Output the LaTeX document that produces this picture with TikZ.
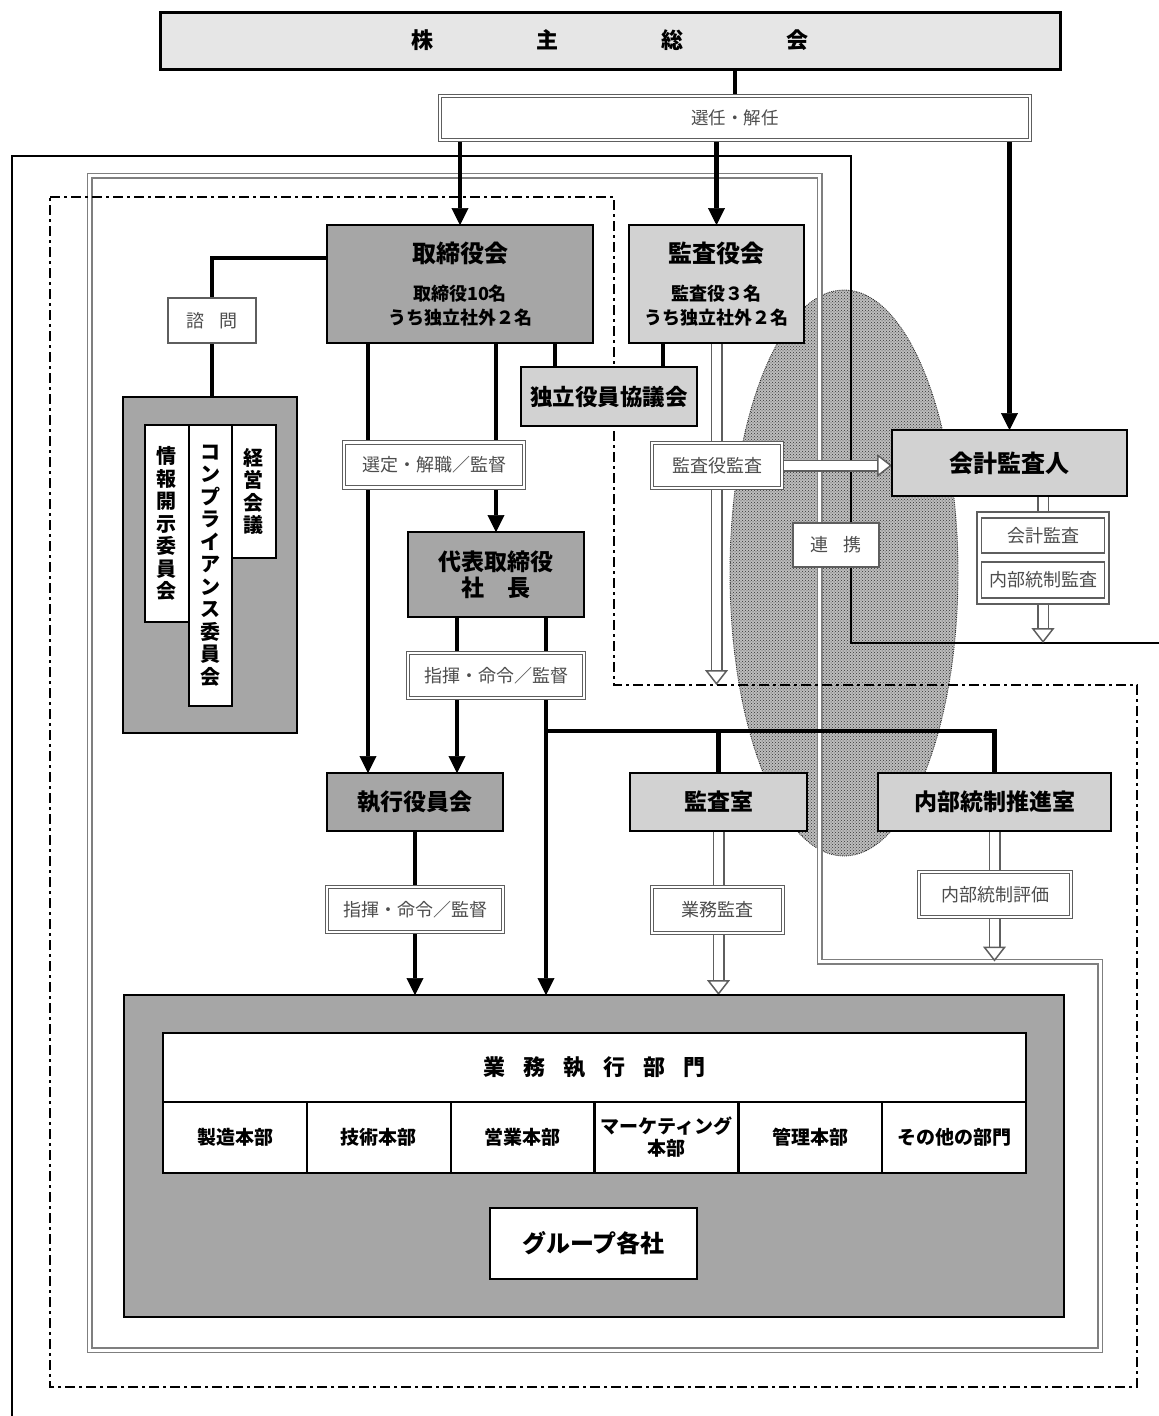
\documentclass[tikz,border=0pt]{standalone}
\usepackage{fontspec}
\setmainfont{Noto Sans CJK JP}
\usepackage{tikz}
\usetikzlibrary{arrows.meta,positioning,backgrounds,patterns,calc}
\pgfdeclarelayer{oval}
\pgfsetlayers{oval,background,main}
\definecolor{boxdark}{HTML}{A6A6A6}
\definecolor{boxlight}{HTML}{D2D2D2}
\definecolor{topgray}{HTML}{E6E6E6}
\definecolor{ovalgray}{HTML}{BDBDBD}
\definecolor{lbltext}{HTML}{4D4D4D}
\definecolor{lblline}{HTML}{5E5E5E}
\definecolor{dblgray}{HTML}{7F7F7F}

\begin{document}
\begin{tikzpicture}[x=1pt, y=-1pt,
    font=\fontsize{20}{24}\selectfont,
    topbox/.style={draw=black, line width=3pt, fill=topgray, inner sep=0pt, outer sep=0pt,
      font=\fontsize{22}{26}\selectfont\bfseries},
    darkbox/.style={draw=black, line width=2.8pt, fill=boxdark, align=center, inner sep=0pt,
      outer sep=0pt, font=\fontsize{23}{26}\selectfont\bfseries},
    lightbox/.style={darkbox, fill=boxlight},
    whitebox/.style={draw=black, line width=2.4pt, fill=white, align=center, inner sep=0pt,
      outer sep=0pt, font=\fontsize{19}{22}\selectfont\bfseries},
    vbox/.style={whitebox, line width=2pt, minimum width=43.5pt, text width=22pt,
      font=\fontsize{20}{22.5}\selectfont\bfseries},
    cell/.style={whitebox, minimum width=143.8pt, minimum height=71pt},
    lbl/.style={draw=lblline, double=white, double distance=2.4pt, line width=1.2pt, fill=white,
      text=lbltext, inner sep=0pt, outer sep=0pt, font=\fontsize{18}{22}\selectfont},
    lblone/.style={draw=lblline, line width=1.5pt, fill=white, text=lbltext, inner sep=0pt,
      outer sep=0pt, font=\fontsize{18}{22}\selectfont},
    conn/.style={line width=4.5pt},
    arr/.style={conn, -{Triangle[length=17pt,width=17pt,line width=0.6pt]}},
    hollow/.style={draw=lblline, double=white, line width=1.5pt, double distance=9pt, shorten >=13pt},
    hhead/.style={draw=lblline, line width=1.5pt,
      -{Triangle[length=15pt,width=23pt,fill=white,line width=1.5pt]}},
    dblframe/.style={draw=dblgray, double=white, line width=1.5pt, double distance=3pt},
    dashframe/.style={line width=2.5pt, dash pattern=on 10pt off 4pt on 3pt off 4pt},
    solidframe/.style={line width=2.2pt}
  ]
  \useasboundingbox (0,0) rectangle (1159,1416);

  % 株主総会
  \node[topbox, minimum width=900pt, minimum height=57pt] (soukai) at (610,40.5)
    {株\hspace{103pt}主\hspace{103pt}総\hspace{103pt}会};
  \node[lbl, minimum width=590pt, minimum height=44pt, font=\fontsize{17.5}{20}\selectfont]
    (sennin) at (735,118) {選任・解任};

  % 取締役会・監査役会
  \node[darkbox, minimum width=266pt, minimum height=118pt, font=\fontsize{18}{24}\selectfont\bfseries]
    (torishimari) at (460,284)
    {{\fontsize{24}{24}\selectfont 取締役会}\\[14pt]取締役10名\\うち独立社外２名};
  \node[lightbox, minimum width=175pt, minimum height=118pt, font=\fontsize{18}{24}\selectfont\bfseries]
    (kansayaku) at (716.5,284)
    {{\fontsize{24}{24}\selectfont 監査役会}\\[14pt]監査役３名\\うち独立社外２名};
  \node[lightbox, minimum width=176pt, minimum height=59pt, font=\fontsize{22.5}{26}\selectfont\bfseries]
    (dokuritsu) at (609,396.5) {独立役員協議会};

  % 諮問・会議体
  \node[lblone, minimum width=88pt, minimum height=45pt] (shimon) at (212,320.5) {諮\hspace{16pt}問};
  \node[darkbox, minimum width=174pt, minimum height=336pt] (kaigi) at (210,565) {};
  \node[vbox, minimum height=197pt] (joho) at (166.75,523.5) {情\\報\\開\\示\\委\\員\\会};
  \node[vbox, minimum height=281pt] (compli) at (210.25,565.5)
    {コ\\ン\\プ\\ラ\\イ\\ア\\ン\\ス\\委\\員\\会};
  \node[vbox, minimum height=133pt] (keiei) at (253.75,491.5) {経\\営\\会\\議};

  % 代表取締役
  \node[darkbox, minimum width=176pt, minimum height=85pt] (daihyo) at (496,574.5)
    {代表取締役\\社\hspace{23pt}長};
  \node[lbl, minimum width=180pt, minimum height=45pt] (sentei) at (434,465) {選定・解職／監督};
  \node[lbl, minimum width=176pt, minimum height=45pt] (shiki1) at (496,675.5) {指揮・命令／監督};
  \node[lbl, minimum width=130pt, minimum height=45pt] (kansaLbl) at (717,465.5) {監査役監査};

  % 会計監査人
  \node[lightbox, minimum width=235pt, minimum height=66pt, font=\fontsize{24}{28}\selectfont\bfseries]
    (kaikei) at (1009.5,463) {会計監査人};
  \node[draw=lblline, line width=1.3pt, fill=white, minimum width=132pt, minimum height=92pt,
    outer sep=0pt] (kkstack) at (1043,558) {};
  \node[lblone, minimum width=123pt, minimum height=35pt] (kkA) at (1043,535.5) {会計監査};
  \node[lblone, minimum width=123pt, minimum height=36pt] (kkB) at (1043,580) {内部統制監査};
  \node[lblone, minimum width=86pt, minimum height=44pt] (renkei) at (836,545) {連\hspace{16pt}携};

  % 執行役員会・監査室・内部統制推進室
  \node[darkbox, minimum width=176pt, minimum height=58pt] (shikko) at (415,802) {執行役員会};
  \node[lightbox, minimum width=177pt, minimum height=58pt] (kansashitsu) at (718.5,802) {監査室};
  \node[lightbox, minimum width=233pt, minimum height=58pt] (naibu) at (994.5,802) {内部統制推進室};
  \node[lbl, minimum width=176pt, minimum height=45pt] (shiki2) at (415,909.5) {指揮・命令／監督};
  \node[lbl, minimum width=131pt, minimum height=46pt] (gyomuLbl) at (717.5,910) {業務監査};
  \node[lbl, minimum width=152pt, minimum height=45pt] (hyokaLbl) at (995,894.5) {内部統制評価};

  % 業務執行部門
  \node[darkbox, minimum width=940pt, minimum height=322pt] (honbu) at (594,1156) {};
  \node[whitebox, minimum width=863pt, minimum height=69pt, font=\fontsize{22}{26}\selectfont\bfseries]
    (gyomu) at (594.5,1067.5)
    {業\hspace{18pt}務\hspace{18pt}執\hspace{18pt}行\hspace{18pt}部\hspace{18pt}門};
  \node[cell] (bu1) at (235,1137.5) {製造本部};
  \node[cell, right=0pt of bu1] (bu2) {技術本部};
  \node[cell, right=0pt of bu2] (bu3) {営業本部};
  \node[cell, right=0pt of bu3] (bu4) {マーケティング\\本部};
  \node[cell, right=0pt of bu4] (bu5) {管理本部};
  \node[cell, right=0pt of bu5] (bu6) {その他の部門};
  \node[whitebox, minimum width=207pt, minimum height=71pt, font=\fontsize{24}{28}\selectfont\bfseries]
    (group) at (593.5,1243.5) {グループ各社};

  % 分岐点
  \coordinate (tsL) at ([xshift=-47pt]shikko.north);
  \coordinate (tsD) at ([xshift=-54pt]dokuritsu.north);
  \coordinate (ksD) at ([xshift=54pt]dokuritsu.north);
  \coordinate (dhS) at ([xshift=42pt]shikko.north);
  \coordinate (dhH) at ([xshift=-48pt]honbu.north);
  \coordinate (brn) at (546,731);
  \coordinate (kyEnd) at (716.5,685);
  \coordinate (kkIn) at (kansaLbl.east -| kaikei.west);
  \coordinate (kkEnd) at (1043,643);
  \coordinate (ksEnd) at (kansashitsu.south |- honbu.north);
  \coordinate (nbEnd) at (994.5,961.5);

  % 連携の楕円
  \begin{pgfonlayer}{oval}
    \fill[ovalgray] (844,573) ellipse [x radius=114pt, y radius=283pt];
    \fill[pattern=crosshatch dots, pattern color=black!80] (844,573) ellipse [x radius=114pt, y radius=283pt];
    \draw[black!80, line width=0.9pt, densely dotted] (844,573) ellipse [x radius=114pt, y radius=283pt];
  \end{pgfonlayer}

  \begin{scope}[on background layer]
    % 枠
    \draw[solidframe] (12,1416) -- (12,156) -- (851,156) -- (851,643) -- (1159,643);
    \draw[dblframe] (89.5,175.5) -- (819.5,175.5) -- (819.5,961.5) -- (1100,961.5) -- (1100,1350)
      -- (89.5,1350) -- cycle;
    \draw[dashframe] (50,197) -- (614,197) -- (614,685) -- (1137,685) -- (1137,1387) -- (50,1387) -- cycle;
    % 株主総会から
    \draw[conn, line width=3.5pt] (soukai.south -| sennin.north) -- (sennin.north);
    \draw[arr] (sennin.south -| torishimari.north) -- (torishimari.north);
    \draw[arr] (sennin.south -| kansayaku.north) -- (kansayaku.north);
    \draw[arr] (sennin.south -| kaikei.north) -- (kaikei.north);
    % 取締役会から
    \draw[conn] ([yshift=26pt]torishimari.west) -| (shimon.north);
    \draw[conn] (shimon.south) -- (shimon.south |- kaigi.north);
    \draw[arr] (tsL |- torishimari.south) -- (tsL);
    \draw[arr] (torishimari.south -| daihyo.north) -- (daihyo.north);
    \draw[conn] (tsD |- torishimari.south) -- (tsD);
    \draw[conn] (ksD |- kansayaku.south) -- (ksD);
    % 代表取締役から
    \draw[arr] (dhS |- daihyo.south) -- (dhS);
    \draw[arr] (dhH |- daihyo.south) -- (dhH);
    \draw[conn] (brn) -| (naibu.north);
    \draw[conn] (brn -| kansashitsu.north) -- (kansashitsu.north);
    \draw[arr] (shikko.south) -- (shikko.south |- honbu.north);
    % 監査の流れ
    \draw[hollow] (kansayaku.south) -- (kyEnd);
    \draw[hhead] ([yshift=15pt]kyEnd) -- (kyEnd);
    \draw[hollow] (kansaLbl.east) -- (kkIn);
    \draw[hhead] ([xshift=-15pt]kkIn) -- (kkIn);
    \draw[hollow] (kaikei.south -| kkstack.north) -- (kkEnd);
    \draw[hhead] ([yshift=15pt]kkEnd) -- (kkEnd);
    \draw[hollow] (kansashitsu.south) -- (ksEnd);
    \draw[hhead] ([yshift=15pt]ksEnd) -- (ksEnd);
    \draw[hollow] (naibu.south) -- (nbEnd);
    \draw[hhead] ([yshift=15pt]nbEnd) -- (nbEnd);
  \end{scope}
\end{tikzpicture}
\end{document}
